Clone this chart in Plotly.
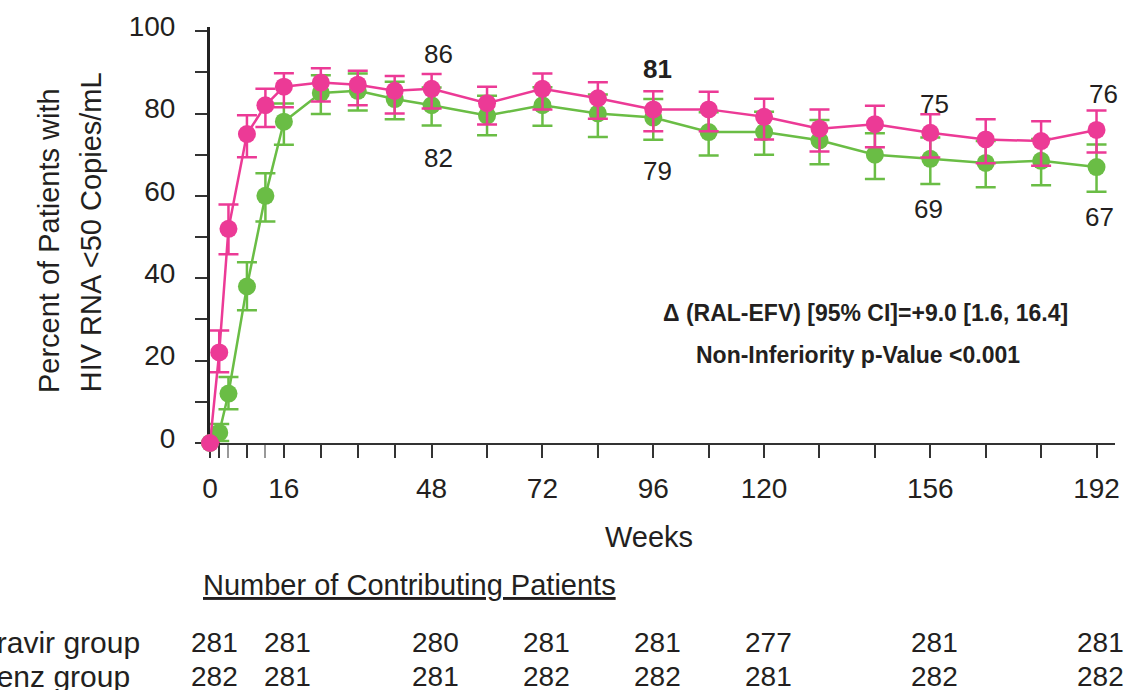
import plotly.graph_objects as go

weeks = [0, 2, 4, 8, 12, 16, 24, 32, 40, 48, 60, 72, 84, 96, 108, 120, 132, 144, 156, 168, 180, 192]
ral = [0, 22, 52, 75, 82, 86.5, 87.5, 87, 85.5, 86, 82.5, 86, 83.7, 81, 81, 79.2, 76.3, 77.4, 75.3, 73.7, 73.3, 76]
ral_up = [0, 5.3, 5.9, 4.6, 4.0, 3.3, 3.5, 3.4, 3.6, 3.6, 4.0, 3.7, 3.9, 4.4, 4.3, 4.4, 4.7, 4.5, 4.5, 4.9, 4.8, 4.7]
ral_lo = [0, 4.8, 6.2, 5.6, 5.3, 5.0, 4.6, 5.0, 5.5, 4.8, 5.2, 5.0, 5.0, 5.3, 5.3, 5.5, 5.5, 5.6, 6.0, 5.8, 6.0, 5.5]
efv = [0, 2.5, 12, 38, 60, 78, 85, 85.5, 83.5, 82, 79.5, 82, 80, 79, 75.5, 75.5, 73.5, 70, 69, 68, 68.5, 67]
efv_up = [0, 2.1, 4.0, 5.9, 5.5, 4.4, 4.3, 4.2, 4.2, 4.3, 4.8, 4.4, 4.6, 4.5, 4.8, 4.9, 4.9, 5.2, 5.2, 5.3, 5.3, 5.5]
efv_lo = [0, 2.0, 3.8, 5.8, 6.2, 5.6, 5.1, 4.8, 4.9, 4.9, 4.8, 5.0, 5.7, 5.4, 5.7, 5.5, 5.8, 5.9, 6.1, 5.9, 5.9, 6.0]

label_weeks = [48, 96, 156, 192]
ral_labels = [86, 81, 75, 76]
efv_labels = [82, 79, 69, 67]

tick_weeks = [0, 2, 8, 16, 24, 32, 40, 48, 60, 72, 84, 96, 108, 120, 132, 144, 156, 168, 180, 192]
labeled_weeks = [0, 16, 48, 72, 96, 120, 156, 192]
minor_weeks = [4, 12]

table_weeks = [0, 16, 48, 72, 96, 120, 156, 192]
n_ral = [281, 281, 280, 281, 281, 277, 281, 281]
n_efv = [282, 281, 281, 282, 282, 281, 282, 282]

PINK = "#EC3A96"
GREEN = "#6ABD45"
TXT = "#231F20"
FONT = "Liberation Sans, Arial, sans-serif"

fig = go.Figure()
for name, y, up, lo, col in [("Efavirenz group", efv, efv_up, efv_lo, GREEN),
                             ("Raltegravir group", ral, ral_up, ral_lo, PINK)]:
    fig.add_trace(go.Scatter(
        x=weeks, y=y, name=name, mode="lines+markers",
        line=dict(color=col, width=2.5),
        marker=dict(color=col, size=18),
        error_y=dict(type="data", symmetric=False, array=up, arrayminus=lo,
                     color=col, thickness=2.5, width=10),
        cliponaxis=False, showlegend=False,
    ))

ann = []


def add(**kw):
    kw.setdefault("showarrow", False)
    kw.setdefault("xanchor", "center")
    kw.setdefault("yanchor", "middle")
    ann.append(kw)


# value labels
for w, lab, ys, xs, bold in zip(label_weeks, ral_labels, [35, 40, 30, 36], [7, 4, 4, 7], [False, True, False, False]):
    t = f"<b>{lab}</b>" if bold else str(lab)
    add(x=w, y=lab, xref="x", yref="y", text=t, xshift=xs, yshift=ys, font=dict(size=26, color=TXT))
for w, lab, ys, xs in zip(label_weeks, efv_labels, [-53, -53, -50, -50], [7, 4, -2, 3]):
    add(x=w, y=lab, xref="x", yref="y", text=str(lab), xshift=xs, yshift=ys, font=dict(size=26, color=TXT))

add(x=0.724, y=0.3118, xref="paper", yref="paper",
    text="<b>Δ (RAL-EFV) [95% CI]=+9.0 [1.6, 16.4]</b>", font=dict(size=23, color=TXT))
add(x=0.7165, y=0.211, xref="paper", yref="paper",
    text="<b>Non-Inferiority p-Value &lt;0.001</b>", font=dict(size=23, color=TXT))

# axis titles
add(x=-0.178, y=0.1162, xref="paper", yref="paper", text="Percent of Patients with",
    textangle=-90, yanchor="bottom", font=dict(size=29, color=TXT))
add(x=-0.1319, y=0.1162, xref="paper", yref="paper", text="HIV RNA &lt;50 Copies/mL",
    textangle=-90, yanchor="bottom", font=dict(size=29, color=TXT))
add(x=0.4846, y=-0.2254, xref="paper", yref="paper", text="Weeks", font=dict(size=29, color=TXT))
add(x=0.2209, y=-0.3405, xref="paper", yref="paper",
    text="<u>Number of Contributing Patients</u>", font=dict(size=29, color=TXT))

# table
for rowy, lab, vals, xr in [(-0.4796, "Raltegravir group", n_ral, -0.0747),
                            (-0.5612, "Efavirenz group", n_efv, -0.0857)]:
    add(x=xr, y=rowy, xref="paper", yref="paper", text=lab, xanchor="right",
        font=dict(size=30, color=TXT))
    for w, v in zip(table_weeks, vals):
        add(x=w, y=rowy, xref="x", yref="paper", xshift=4, text=str(v), font=dict(size=28, color=TXT))

fig.update_layout(
    width=1131, height=690,
    margin=dict(l=210, r=11, t=26, b=247),
    paper_bgcolor="white", plot_bgcolor="white",
    font=dict(family=FONT, color=TXT),
    annotations=ann,
    xaxis=dict(range=[0, 196], showgrid=False, zeroline=False,
               showline=True, linecolor="#333333", linewidth=2,
               tickmode="array", tickvals=tick_weeks,
               ticktext=[str(w) if w in labeled_weeks else "" for w in tick_weeks],
               ticks="outside", ticklen=13, tickwidth=2, tickcolor="#333333",
               ticklabelstandoff=6,
               minor=dict(tickmode="array", tickvals=minor_weeks, ticks="outside",
                          ticklen=13, tickwidth=2, tickcolor="#999999"),
               tickfont=dict(size=28, color=TXT), layer="below traces"),
    yaxis=dict(range=[0, 101], showgrid=False, zeroline=False,
               showline=True, linecolor="#222222", linewidth=3,
               tickmode="array", tickvals=list(range(0, 101, 10)),
               ticktext=[str(v) if v % 20 == 0 else "" for v in range(0, 101, 10)],
               ticks="outside", ticklen=12, tickwidth=2, tickcolor="#333333",
               ticklabelstandoff=14, ticklabelshift=-5,
               tickfont=dict(size=28, color=TXT), layer="below traces"),
)

fig.write_html("out.html")
